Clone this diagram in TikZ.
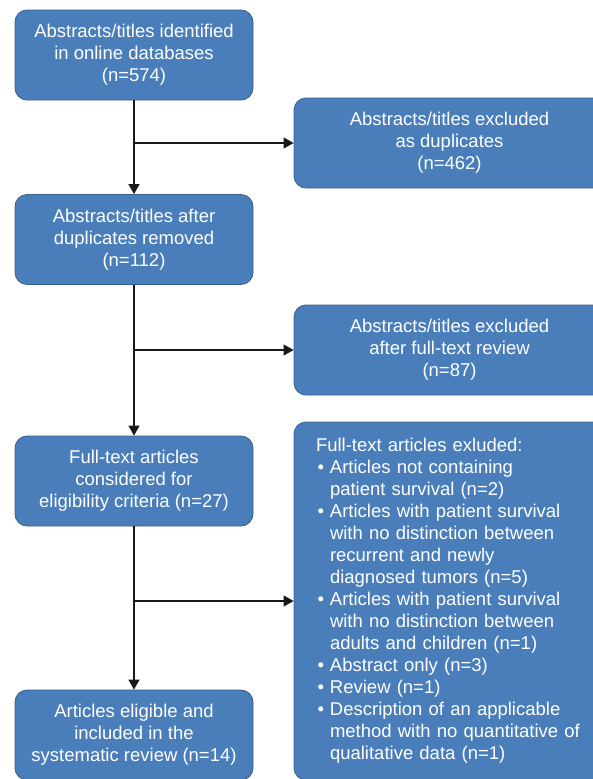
\documentclass[tikz,border=0pt]{standalone}
\usepackage{fontspec}
\setmainfont{Liberation Sans}
\usetikzlibrary{arrows.meta}
\definecolor{boxblue}{RGB}{74,126,187}
\definecolor{boxedge}{RGB}{58,95,140}
\newcommand{\itm}{\makebox[14pt][l]{\hspace{1.5pt}•}}
\newcommand{\cnt}{\hspace*{14pt}}
\begin{document}
\begin{tikzpicture}
		[	x=1pt,y=-1pt,
		box/.style={rectangle,rounded corners=12pt,draw=boxedge,line width=0.8pt,fill=boxblue,text=white,font=\fontsize{18.5}{22}\selectfont,inner sep=0pt},
		lbox/.style={box,align=center,minimum width=238pt,minimum height=90pt},
		rbox/.style={box,align=center,minimum width=311pt,minimum height=90pt},
		arr/.style={-{Triangle[length=10pt,width=11pt]},line width=1.2pt,black!90},
		]
		\useasboundingbox (0,0) rectangle (592,779);
		\node[lbox,name=ident] at (134,55) {Abstracts/titles identified\\in online databases\\(n=574)};
		\node[lbox,name=dedup] at (134,239.5) {Abstracts/titles after\\duplicates removed\\(n=112)};
		\node[lbox,name=full] at (134,481) {Full-text articles\\considered for\\eligibility criteria (n=27)};
		\node[lbox,name=incl] at (134,735) {Articles eligible and\\included in the\\systematic review (n=14)};

		\node[rbox,name=dup] at (449.5,143) {Abstracts/titles excluded\\as duplicates\\(n=462)};
		\node[rbox,name=rev] at (449.5,350) {Abstracts/titles excluded\\after full-text review\\(n=87)};
		\node[rbox,align=left,text width=267pt,minimum height=358pt,name=excl] at (449.5,601) {Full-text articles exluded:\\
			\itm Articles not containing\\ \cnt patient survival (n=2)\\
			\itm Articles with patient survival\\ \cnt with no distinction between\\ \cnt recurrent and newly\\ \cnt diagnosed tumors (n=5)\\
			\itm Articles with patient survival\\ \cnt with no distinction between\\ \cnt adults and children (n=1)\\
			\itm Abstract only (n=3)\\
			\itm Review (n=1)\\
			\itm Description of an applicable\\ \cnt method with no quantitative of\\ \cnt qualitative data (n=1)};

		\draw[arr] (ident) -- (dedup);
		\draw[arr] (dedup) -- (full);
		\draw[arr] (full) -- (incl);
		\draw[arr] (ident.south |- dup.west) -- (dup.west);
		\draw[arr] (dedup.south |- rev.west) -- (rev.west);
		\draw[arr] (full.south |- excl.west) -- (excl.west);
	\end{tikzpicture}
\end{document}
